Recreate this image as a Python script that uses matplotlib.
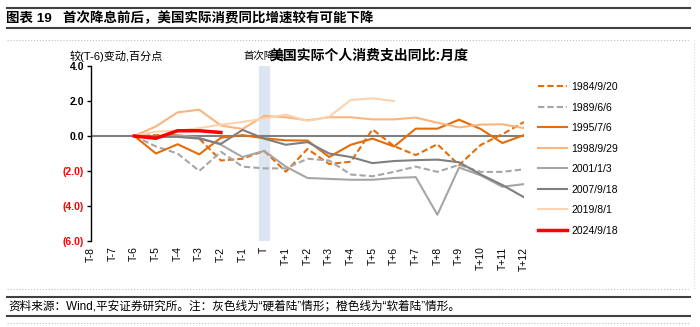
import matplotlib
matplotlib.use('Agg')
import matplotlib.pyplot as plt
from matplotlib.lines import Line2D

plt.rcParams['font.family'] = ['Liberation Sans', 'Noto Sans CJK SC', 'DejaVu Sans']

# 横轴类别
cats = ['T-8', 'T-7', 'T-6', 'T-5', 'T-4', 'T-3', 'T-2', 'T-1', 'T',
        'T+1', 'T+2', 'T+3', 'T+4', 'T+5', 'T+6', 'T+7', 'T+8', 'T+9',
        'T+10', 'T+11', 'T+12']

# 各次首次降息前后数据 (从T-6开始)
s1984 = [0, 0.05, 0.05, -0.15, -1.4, -1.3, -0.85, -2.04, -0.74, -1.6, -1.47,
         0.38, -0.58, -1.09, -0.47, -1.66, -0.51, 0.1, 0.8]
s1989 = [0, -0.6, -1.0, -2.0, -0.9, -1.75, -1.85, -1.85, -1.3, -1.4, -2.2,
         -2.3, -2.05, -1.75, -2.05, -1.65, -2.05, -2.05, -1.9]
s1995 = [0, -1.0, -0.47, -1.05, -0.1, 0.05, -0.13, -0.25, -0.26, -1.2, -0.5,
         -0.15, -0.6, 0.42, 0.42, 0.93, 0.4, -0.4, 0.05]
s1998 = [0, 0.55, 1.35, 1.5, 0.6, 0.4, 1.15, 1.07, 0.9, 1.07, 1.07, 0.95,
         0.95, 1.05, 0.76, 0.49, 0.65, 0.67, 0.45]
s2001 = [0, -0.1, 0.05, -0.1, -0.5, -1.2, -0.85, -1.75, -2.4, -2.45, -2.5,
         -2.5, -2.4, -2.35, -4.5, -1.8, -2.25, -2.9, -2.75]
s2007 = [0, -0.05, -0.05, -0.15, -0.45, 0.35, -0.15, -0.5, -0.35, -1.0, -1.2,
         -1.55, -1.43, -1.38, -1.35, -1.5, -2.2, -2.8, -3.5]
s2019 = [0, 0.25, 0.3, 0.45, 0.65, 0.8, 1.0, 1.22, 0.86, 1.1, 2.06, 2.15, 2.0]
s2024 = [0, -0.13, 0.3, 0.3, 0.2]

series = [
    ('1984/9/20', s1984, '#E46C0A', '--', 1.5),
    ('1989/6/6', s1989, '#A6A6A6', '--', 1.5),
    ('1995/7/6', s1995, '#E46C0A', '-', 1.5),
    ('1998/9/29', s1998, '#F9B47F', '-', 1.5),
    ('2001/1/3', s2001, '#A6A6A6', '-', 1.5),
    ('2007/9/18', s2007, '#7F7F7F', '-', 1.5),
    ('2019/8/1', s2019, '#FCD3AE', '-', 1.5),
    ('2024/9/18', s2024, '#FF0000', '-', 2.5),
]

fig = plt.figure(figsize=(7, 3.27), dpi=100)
W, H = 700, 327
ax = fig.add_axes([91 / W, 1 - 241 / H, (524 - 91) / W, (241 - 66) / H])

x_all = list(range(len(cats)))
t_idx = cats.index('T')
ax.axvspan(t_idx - 0.22, t_idx + 0.22, color='#DCE6F2', zorder=0)
ax.axhline(0, color='#7F7F7F', lw=1.5, zorder=1)

handles = []
for name, vals, col, ls, lw in series:
    xs = x_all[2:2 + len(vals)]
    h, = ax.plot(xs, vals, color=col, ls=ls, lw=lw, label=name, zorder=3,
                 dashes=(3, 1.5) if ls == '--' else (None, None))
    handles.append(h)

ax.set_xlim(0, 20)
ax.set_ylim(-6, 4)
yt = [-6, -4, -2, 0, 2, 4]
ax.set_yticks(yt)
ax.set_yticklabels([('(%.1f)' % abs(v)) if v < 0 else '%.1f' % v for v in yt],
                   fontsize=7.5, fontweight='bold')
for lab, v in zip(ax.get_yticklabels(), yt):
    lab.set_color('#FF0000' if v < 0 else '#000000')
ax.set_xticks(x_all)
ax.set_xticklabels(cats, rotation=90, fontsize=7.5)
ax.tick_params(axis='x', length=0, pad=4)
ax.tick_params(axis='y', length=3, width=1, pad=2)
for sp in ['top', 'right', 'bottom']:
    ax.spines[sp].set_visible(False)
ax.spines['left'].set_linewidth(1)

fig.legend(handles=handles, loc='upper left', bbox_to_anchor=(538 / W, 1 - 82 / H),
           frameon=False, fontsize=7.5, handlelength=2.8, handletextpad=0.4,
           labelspacing=1.01, borderpad=0, borderaxespad=0)

# 标题与注释
fig.text(70 / W, 1 - 56 / H, '较(T-6)变动,百分点', fontsize=8, va='center')
fig.text(243 / W, 1 - 56 / H, '首次降息', fontsize=7.5, va='center')
fig.text(270 / W, 1 - 56 / H, '美国实际个人消费支出同比:月度', fontsize=10,
         fontweight='bold', va='center')

fig.text(6 / W, 1 - 18 / H, '图表 19   首次降息前后，美国实际消费同比增速较有可能下降',
         fontsize=9.7, fontweight='bold', va='center')
fig.text(8 / W, 1 - 306 / H,
         '资料来源：Wind,平安证券研究所。注：灰色线为“硬着陆”情形；橙色线为“软着陆”情形。',
         fontsize=8.4, va='center')


def hline(y, lw, color, ls='-'):
    fig.add_artist(Line2D([7 / W, 690 / W], [1 - y / H, 1 - y / H], lw=lw,
                          color=color, ls=ls, transform=fig.transFigure))


hline(8, 1.5, '#404040')
hline(28, 1.5, '#404040')
hline(40, 0.8, '#BFBFBF', ':')
hline(289, 0.8, '#BFBFBF', ':')
hline(297, 1.5, '#404040')
hline(316, 1.5, '#404040')
hline(323, 0.8, '#BFBFBF', ':')
fig.add_artist(Line2D([694 / W, 694 / W], [1 - 40 / H, 1 - 289 / H], lw=0.8,
                      color='#D9D9D9', ls=':', transform=fig.transFigure))

fig.savefig('out.png', dpi=100)
